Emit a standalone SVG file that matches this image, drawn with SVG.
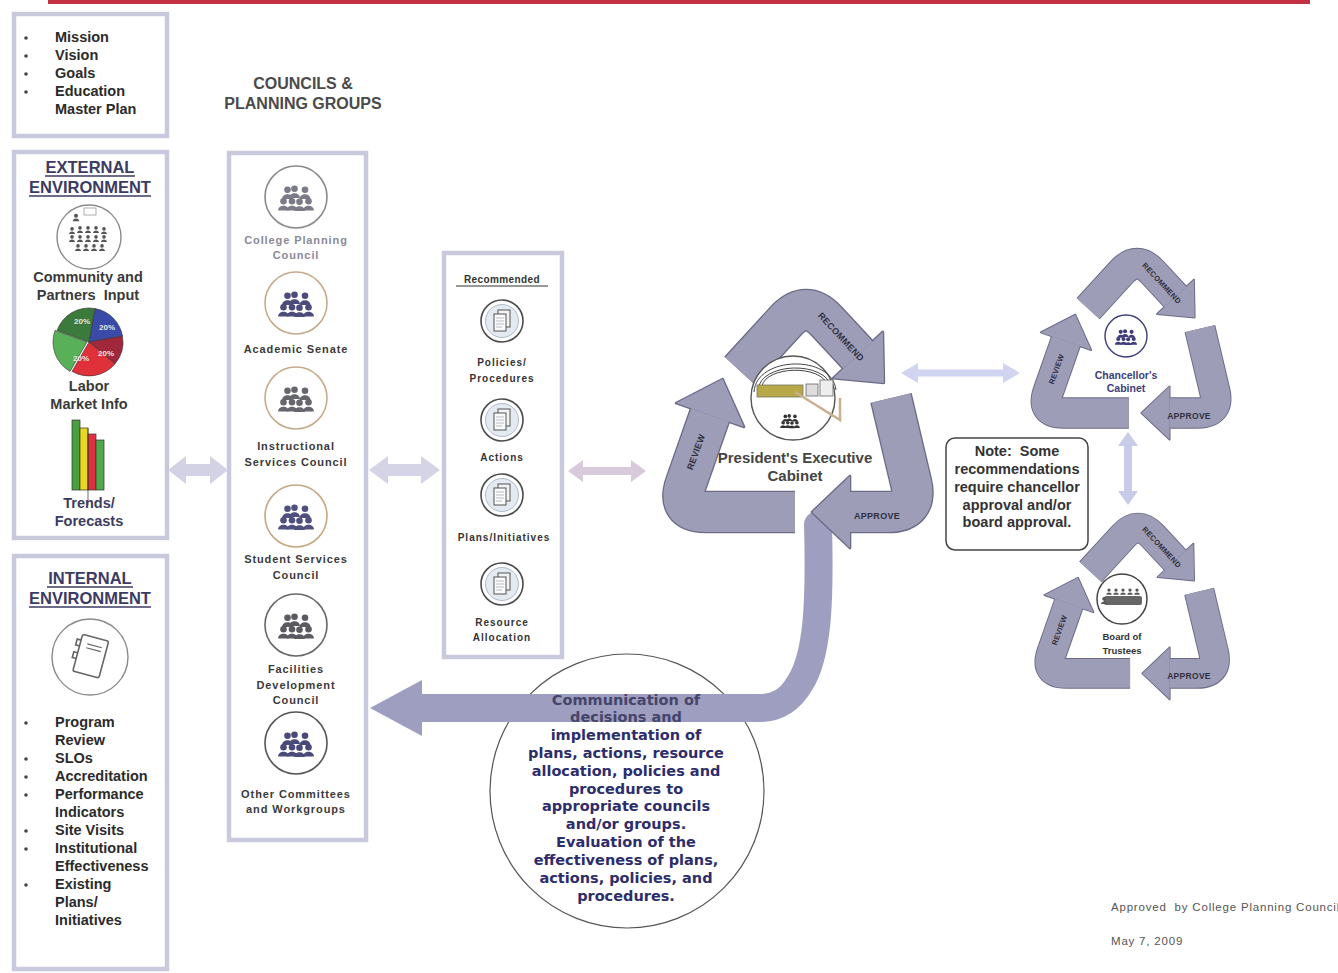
<svg xmlns="http://www.w3.org/2000/svg" width="1338" height="973" viewBox="0 0 1338 973">
<style>
  text { font-family: "Liberation Sans", Arial, sans-serif; font-weight: bold; }
  .frame { fill: none; stroke: #c9c9dd; stroke-width: 4.5; }
  .lst { font-size: 14.5px; fill: #2b2b2b; }
  .hd { font-size: 16.5px; fill: #3b3b63; text-anchor: middle; }
  .uline { stroke: #3b3b63; stroke-width: 1.3; }
  .lbl { font-size: 14.5px; fill: #3a3a3a; text-anchor: middle; }
  .cl { font-size: 11px; letter-spacing: 0.9px; fill: #3a3a3a; text-anchor: middle; }
  .rl { font-size: 10px; letter-spacing: 1px; fill: #333; text-anchor: middle; }
  .ring { fill: #fff; stroke-width: 1.6; }
  .band-edge { fill: none; stroke: #6b6b87; stroke-width: 42.6; stroke-linejoin: round; }
  .band { fill: none; stroke: #9d9db7; stroke-width: 40; stroke-linejoin: round; }
  .head-edge { fill: #6b6b87; stroke: #6b6b87; stroke-width: 2.6; stroke-linejoin: round; }
  .head { fill: #9d9db7; }
  .at { font-size: 9px; letter-spacing: 0.3px; fill: #2f2f3f; text-anchor: middle; }
  .cm { font-family: "DejaVu Sans", Verdana, sans-serif; font-size: 14.5px; fill: #2d2d6b; text-anchor: middle; }
  .foot { font-weight: normal; font-size: 11.5px; letter-spacing: 0.8px; fill: #555; }
  .bul { fill: #444; }
</style>
<defs>
  <!-- one seated figure: head + shoulders -->
  <g id="person"><circle cy="-3.8" r="3.3"/><path d="M-5.4,5.6 C-5.6,-0.8 5.6,-0.8 5.4,5.6 Z"/></g>
  <!-- group of seven figures used for council icons -->
  <g id="ppl">
    <use href="#person" x="-8.5" y="-4.5"/>
    <use href="#person" x="-1.5" y="-5.5"/>
    <use href="#person" x="9" y="-4.5"/>
    <use href="#person" x="-12.5" y="7"/>
    <use href="#person" x="-4" y="7"/>
    <use href="#person" x="3.5" y="7.5"/>
    <use href="#person" x="12.5" y="7"/>
  </g>
  <!-- document badge used in the Recommended column -->
  <g id="doc">
    <circle r="21" fill="#fff" stroke="#4a4a4a" stroke-width="1.6"/>
    <circle r="16.5" fill="#e3eaf1" stroke="#b0bccb" stroke-width="1"/>
    <rect x="-4" y="-11" width="12" height="17" fill="#f3f3f3" stroke="#555" stroke-width="1"/>
    <rect x="-8" y="-7" width="12" height="17" fill="#fafafa" stroke="#555" stroke-width="1"/>
    <path d="M-6,-3 h8 M-6,0 h8 M-6,3 h8 M-6,6 h6" stroke="#aab" stroke-width="0.8"/>
  </g>
  <!-- three bent arrows of a review / recommend / approve cycle
       (drawn at full size; smaller cycles reuse it with a scale) -->
  <g id="cycle">
    <path class="band-edge" d="M740,371 L785.7,321.1 Q806,299 826.4,321 L858,355"/>
    <path class="band-edge" d="M891,398 L911.1,482.8 Q918,512 888,512 L850,512"/>
    <path class="band-edge" d="M795,512 L706,512 Q676,512 685.9,483.7 L710,415"/>
    <polygon class="head-edge" points="882.9,331.8 883.9,382.9 833.1,378.2"/>
    <polygon class="head-edge" points="850,476 812,512 850,548"/>
    <polygon class="head-edge" points="744,426.9 722.6,379.1 676,403.1"/>
    <path class="band" d="M740,371 L785.7,321.1 Q806,299 826.4,321 L858,355"/>
    <path class="band" d="M891,398 L911.1,482.8 Q918,512 888,512 L850,512"/>
    <path class="band" d="M795,512 L706,512 Q676,512 685.9,483.7 L710,415"/>
    <polygon class="head" points="882.9,331.8 883.9,382.9 833.1,378.2"/>
    <polygon class="head" points="850,476 812,512 850,548"/>
    <polygon class="head" points="744,426.9 722.6,379.1 676,403.1"/>
  </g>
</defs>

<rect width="1338" height="973" fill="#fff"/>
<rect x="48" y="0" width="1262" height="4" fill="#c33142"/>

<!-- mission / vision box -->
<g id="mission-box">
  <rect class="frame" x="14" y="14" width="153" height="122"/>
  <circle class="bul" cx="26" cy="38" r="1.8"/>
  <circle class="bul" cx="26" cy="56" r="1.8"/>
  <circle class="bul" cx="26" cy="74" r="1.8"/>
  <circle class="bul" cx="26" cy="92" r="1.8"/>
  <text class="lst" x="55" y="42">Mission</text>
  <text class="lst" x="55" y="60">Vision</text>
  <text class="lst" x="55" y="78">Goals</text>
  <text class="lst" x="55" y="96">Education</text>
  <text class="lst" x="55" y="114">Master Plan</text>
</g>

<!-- external environment -->
<g id="external-environment">
  <rect class="frame" x="14" y="152" width="153" height="386"/>
  <text class="hd" x="90" y="173">EXTERNAL</text>
  <line class="uline" x1="45" y1="176" x2="135" y2="176"/>
  <text class="hd" x="90" y="193">ENVIRONMENT</text>
  <line class="uline" x1="29" y1="196" x2="151" y2="196"/>
  <circle cx="89" cy="237" r="32" fill="#fff" stroke="#8a8a8a" stroke-width="1.4"/>
  <rect x="84" y="208" width="12" height="7" fill="#fff" stroke="#999" stroke-width="0.8"/>
  <g fill="#555">
    <use href="#person" transform="translate(76,218) scale(0.6)"/>
    <use href="#person" transform="translate(72,231) scale(0.55)"/>
    <use href="#person" transform="translate(80,230) scale(0.55)"/>
    <use href="#person" transform="translate(88,230) scale(0.55)"/>
    <use href="#person" transform="translate(96,230) scale(0.55)"/>
    <use href="#person" transform="translate(104,231) scale(0.55)"/>
    <use href="#person" transform="translate(72,239) scale(0.55)"/>
    <use href="#person" transform="translate(80,239) scale(0.55)"/>
    <use href="#person" transform="translate(88,239) scale(0.55)"/>
    <use href="#person" transform="translate(96,239) scale(0.55)"/>
    <use href="#person" transform="translate(104,239) scale(0.55)"/>
    <use href="#person" transform="translate(78,248) scale(0.55)"/>
    <use href="#person" transform="translate(86,248) scale(0.55)"/>
    <use href="#person" transform="translate(94,248) scale(0.55)"/>
    <use href="#person" transform="translate(102,248) scale(0.55)"/>
  </g>
  <text class="lbl" x="88" y="282">Community and</text>
  <text class="lbl" x="88" y="300" xml:space="preserve">Partners  Input</text>
  <!-- pie chart -->
  <g stroke="#333" stroke-width="0.6">
    <path d="M89,342 L94.9,308.5 A34,34 0 0 1 122.5,336.1 Z" fill="#3a4aa8"/>
    <path d="M89,342 L122.5,336.1 A34,34 0 0 1 115,363.9 Z" fill="#a0283a"/>
    <path d="M89,342 L115,363.9 A34,34 0 0 1 72,371.4 Z" fill="#e0303a"/>
    <path d="M87,342 L70,371.4 A34,34 0 0 1 55,330.4 Z" fill="#58b058"/>
    <path d="M89,342 L57,330.4 A34,34 0 0 1 94.9,308.5 Z" fill="#3a7a3a"/>
  </g>
  <g font-size="8" fill="#e6e6e6" text-anchor="middle">
    <text x="82" y="324">20%</text>
    <text x="107" y="330">20%</text>
    <text x="106" y="356">20%</text>
    <text x="81" y="361">20%</text>
  </g>
  <text class="lbl" x="89" y="391">Labor</text>
  <text class="lbl" x="89" y="409">Market Info</text>
  <!-- bar chart -->
  <g stroke="#333" stroke-width="0.7">
    <rect x="72" y="420" width="8" height="70" fill="#4aa040"/>
    <rect x="80" y="428" width="8" height="62" fill="#e8d820"/>
    <rect x="88" y="434" width="8" height="56" fill="#e03040"/>
    <rect x="96" y="440" width="8" height="50" fill="#50a848"/>
    <line x1="88" y1="428" x2="88" y2="505"/>
  </g>
  <text class="lbl" x="89" y="508" style="fill:#3b3b63">Trends/</text>
  <text class="lbl" x="89" y="526" style="fill:#3b3b63">Forecasts</text>
</g>

<!-- internal environment -->
<g id="internal-environment">
  <rect class="frame" x="14" y="556" width="153" height="413"/>
  <text class="hd" x="90" y="584">INTERNAL</text>
  <line class="uline" x1="47" y1="587" x2="133" y2="587"/>
  <text class="hd" x="90" y="604">ENVIRONMENT</text>
  <line class="uline" x1="29" y1="607" x2="151" y2="607"/>
  <circle cx="90" cy="657" r="38" fill="#fff" stroke="#8a8a8a" stroke-width="1.4"/>
  <g transform="translate(90,657) rotate(15)" fill="none" stroke="#666" stroke-width="1.6">
    <rect x="-13" y="-20" width="27" height="38" rx="2"/>
    <path d="M-13,-14 h-4 v6 h4 M-13,-1 h-4 v6 h4"/>
    <path d="M-6,-12 h15 M-6,-8 h15" stroke-width="1.1"/>
  </g>
  <circle class="bul" cx="26" cy="723" r="1.8"/>
  <circle class="bul" cx="26" cy="759" r="1.8"/>
  <circle class="bul" cx="26" cy="777" r="1.8"/>
  <circle class="bul" cx="26" cy="795" r="1.8"/>
  <circle class="bul" cx="26" cy="831" r="1.8"/>
  <circle class="bul" cx="26" cy="849" r="1.8"/>
  <circle class="bul" cx="26" cy="885" r="1.8"/>
  <text class="lst" x="55" y="727">Program</text>
  <text class="lst" x="55" y="745">Review</text>
  <text class="lst" x="55" y="763">SLOs</text>
  <text class="lst" x="55" y="781">Accreditation</text>
  <text class="lst" x="55" y="799">Performance</text>
  <text class="lst" x="55" y="817">Indicators</text>
  <text class="lst" x="55" y="835">Site Visits</text>
  <text class="lst" x="55" y="853">Institutional</text>
  <text class="lst" x="55" y="871">Effectiveness</text>
  <text class="lst" x="55" y="889">Existing</text>
  <text class="lst" x="55" y="907">Plans/</text>
  <text class="lst" x="55" y="925">Initiatives</text>
</g>

<!-- councils column -->
<g id="councils">
  <text x="303" y="89" font-size="16" fill="#4a4a4a" text-anchor="middle">COUNCILS &amp;</text>
  <text x="303" y="109" font-size="16" fill="#4a4a4a" text-anchor="middle">PLANNING GROUPS</text>
  <rect class="frame" x="229" y="153" width="137" height="687"/>
</g>
<g id="college-planning-council">
  <circle class="ring" cx="296" cy="197" r="31" stroke="#8a8a8a"/>
  <use href="#ppl" transform="translate(296,198)" fill="#7a7a88"/>
  <text class="cl" x="296" y="244" style="fill:#8a8a96">College Planning</text>
  <text class="cl" x="296" y="259" style="fill:#8a8a96">Council</text>
</g>
<g id="academic-senate">
  <circle class="ring" cx="296" cy="303" r="31" stroke="#c4ab8c"/>
  <use href="#ppl" transform="translate(296,304)" fill="#4c4c7c"/>
  <text class="cl" x="296" y="353">Academic Senate</text>
</g>
<g id="instructional-services">
  <circle class="ring" cx="296" cy="398" r="31" stroke="#c4ab8c"/>
  <use href="#ppl" transform="translate(296,399)" fill="#66666e"/>
  <text class="cl" x="296" y="450">Instructional</text>
  <text class="cl" x="296" y="466">Services Council</text>
</g>
<g id="student-services">
  <circle class="ring" cx="296" cy="516" r="31" stroke="#c4a684"/>
  <use href="#ppl" transform="translate(296,517)" fill="#50507e"/>
  <text class="cl" x="296" y="563">Student Services</text>
  <text class="cl" x="296" y="579">Council</text>
</g>
<g id="facilities-development">
  <circle class="ring" cx="296" cy="625" r="31" stroke="#666"/>
  <use href="#ppl" transform="translate(296,626)" fill="#5a5a60"/>
  <text class="cl" x="296" y="673">Facilities</text>
  <text class="cl" x="296" y="689">Development</text>
  <text class="cl" x="296" y="704">Council</text>
</g>
<g id="other-committees">
  <circle class="ring" cx="296" cy="743" r="31" stroke="#555"/>
  <use href="#ppl" transform="translate(296,744)" fill="#4a4a7a"/>
  <text class="cl" x="296" y="798">Other Committees</text>
  <text class="cl" x="296" y="813">and Workgroups</text>
</g>

<!-- recommended column -->
<g id="recommended">
  <rect class="frame" x="444" y="253" width="118" height="404"/>
  <text class="rl" x="502" y="283" style="letter-spacing:0.4px">Recommended</text>
  <line x1="456" y1="286" x2="548" y2="286" stroke="#333" stroke-width="1"/>
</g>
<g id="policies-procedures">
  <use href="#doc" x="502" y="321"/>
  <text class="rl" x="502" y="366">Policies/</text>
  <text class="rl" x="502" y="382">Procedures</text>
</g>
<g id="actions">
  <use href="#doc" x="502" y="420"/>
  <text class="rl" x="502" y="461">Actions</text>
</g>
<g id="plans-initiatives">
  <use href="#doc" x="502" y="495"/>
  <text class="rl" x="504" y="541">Plans/Initiatives</text>
</g>
<g id="resource-allocation">
  <use href="#doc" x="502" y="584"/>
  <text class="rl" x="502" y="626">Resource</text>
  <text class="rl" x="502" y="641">Allocation</text>
</g>

<!-- outline of the communication bubble (its text sits over the arrow further down) -->
<g id="communication-bubble">
  <circle cx="627" cy="791" r="137" fill="#fff" stroke="#555" stroke-width="1.2"/>
</g>

<!-- connectors -->
<g id="connectors">
  <polygon fill="#d2d2e4" points="168,470 186,456 186,464 210,464 210,456 228,470 210,484 210,476 186,476 186,484"/>
  <polygon fill="#d4d4e6" points="369,470 388,456 388,464 421,464 421,456 440,470 421,484 421,476 388,476 388,484"/>
  <polygon fill="#d8cadb" points="568,471 583,460 583,467 631,467 631,460 646,471 631,482 631,475 583,475 583,482"/>
  <polygon fill="#d0d4f0" points="901,373 918,363 918,369.5 1003,369.5 1003,363 1020,373 1003,383 1003,376.5 918,376.5 918,383"/>
  <polygon fill="#c8cce8" points="1128,432 1138,446 1132,446 1132,491 1138,491 1128,505 1118,491 1124,491 1124,446 1118,446"/>
  <path d="M818,525 C820,600 818,655 800,683 C790,700 778,708 760,708 L418,708" fill="none" stroke="#9e9ec0" stroke-width="28" stroke-linecap="round"/>
  <polygon fill="#9e9ec0" points="370,708 422,680 422,736"/>
</g>

<!-- president's executive cabinet cycle -->
<g id="president-cabinet">
  <use href="#cycle"/>
  <text class="at" transform="translate(841,337) rotate(47)" y="3">RECOMMEND</text>
  <text class="at" x="877" y="519">APPROVE</text>
  <text class="at" transform="translate(696,452) rotate(-70)" y="3">REVIEW</text>
  <circle cx="793" cy="398" r="42" fill="#fff" stroke="#555" stroke-width="1.4"/>
  <g fill="none" stroke="#444" stroke-width="1">
    <path d="M758,390 C760,362 826,360 832,388"/>
    <path d="M762,386 C766,366 822,364 828,386"/>
    <path d="M754,392 C756,356 832,354 836,390"/>
  </g>
  <rect x="757" y="385" width="46" height="12" fill="#b8a848" stroke="#776" stroke-width="0.8"/>
  <rect x="806" y="384" width="12" height="12" fill="#ddd" stroke="#666" stroke-width="0.8"/>
  <rect x="820" y="380" width="13" height="16" fill="#eee" stroke="#666" stroke-width="0.8"/>
  <path d="M795,392 L840,420 L840,398" fill="none" stroke="#c8b090" stroke-width="2.5"/>
  <use href="#ppl" transform="translate(790,421) scale(0.55)" fill="#333"/>
  <text x="795" y="463" font-size="15" fill="#444" text-anchor="middle">President's Executive</text>
  <text x="795" y="481" font-size="15" fill="#444" text-anchor="middle">Cabinet</text>
</g>

<!-- chancellor's cabinet cycle -->
<g id="chancellor-cabinet">
  <use href="#cycle" transform="translate(540.56,34.1) scale(0.74)"/>
  <text class="at" style="font-size:7.5px" transform="translate(1162,283) rotate(47)" y="3">RECOMMEND</text>
  <text class="at" style="font-size:8.5px" x="1189" y="419">APPROVE</text>
  <text class="at" style="font-size:7.5px" transform="translate(1056,369) rotate(-70)" y="3">REVIEW</text>
  <circle cx="1126" cy="336" r="21" fill="#fff" stroke="#3d3d7a" stroke-width="1.4"/>
  <use href="#ppl" transform="translate(1126,337) scale(0.62)" fill="#3d3d7a"/>
  <text x="1126" y="379" font-size="10.5" fill="#3d3d7a" text-anchor="middle">Chancellor's</text>
  <text x="1126" y="392" font-size="10.5" fill="#3d3d7a" text-anchor="middle">Cabinet</text>
</g>

<!-- note -->
<g id="note">
  <rect x="946" y="438" width="142" height="112" rx="9" fill="#fff" stroke="#444" stroke-width="1.5"/>
  <g font-size="14.5" fill="#333" text-anchor="middle">
    <text x="1017" y="456" xml:space="preserve">Note:  Some</text>
    <text x="1017" y="474">recommendations</text>
    <text x="1017" y="492">require chancellor</text>
    <text x="1017" y="510">approval and/or</text>
    <text x="1017" y="527">board approval.</text>
  </g>
</g>

<!-- board of trustees cycle -->
<g id="board-of-trustees">
  <use href="#cycle" transform="translate(557.68,304.8) scale(0.72)"/>
  <text class="at" style="font-size:7.5px" transform="translate(1162,547) rotate(47)" y="3">RECOMMEND</text>
  <text class="at" style="font-size:8.5px" x="1189" y="679">APPROVE</text>
  <text class="at" style="font-size:7.5px" transform="translate(1059,630) rotate(-70)" y="3">REVIEW</text>
  <circle cx="1122" cy="599" r="25" fill="#fff" stroke="#444" stroke-width="1.5"/>
  <g fill="#555">
    <use href="#person" transform="translate(1109,592) scale(0.5)"/>
    <use href="#person" transform="translate(1116,592) scale(0.5)"/>
    <use href="#person" transform="translate(1123,592) scale(0.5)"/>
    <use href="#person" transform="translate(1130,592) scale(0.5)"/>
    <use href="#person" transform="translate(1137,592) scale(0.5)"/>
  </g>
  <rect x="1104" y="596" width="38" height="9" rx="2" fill="#666"/>
  <use href="#person" transform="translate(1104,601) scale(0.55)" fill="#555"/>
  <text x="1122" y="640" font-size="9.5" fill="#333" text-anchor="middle">Board of</text>
  <text x="1122" y="654" font-size="9.5" fill="#333" text-anchor="middle">Trustees</text>
</g>

<!-- communication text -->
<g id="communication-text">
  <text class="cm" x="626" y="705" style="fill:#45456a">Communication of</text>
  <text class="cm" x="626" y="722" style="fill:#45456a">decisions and</text>
  <text class="cm" x="626" y="740">implementation of</text>
  <text class="cm" x="626" y="758">plans, actions, resource</text>
  <text class="cm" x="626" y="776">allocation, policies and</text>
  <text class="cm" x="626" y="794">procedures to</text>
  <text class="cm" x="626" y="811">appropriate councils</text>
  <text class="cm" x="626" y="829">and/or groups.</text>
  <text class="cm" x="626" y="847">Evaluation of the</text>
  <text class="cm" x="626" y="865">effectiveness of plans,</text>
  <text class="cm" x="626" y="883">actions, policies, and</text>
  <text class="cm" x="626" y="901">procedures.</text>
</g>

<g id="approval-note">
  <text class="foot" x="1111" y="911" xml:space="preserve">Approved  by College Planning Council</text>
  <text class="foot" x="1111" y="945">May 7, 2009</text>
</g>
</svg>
